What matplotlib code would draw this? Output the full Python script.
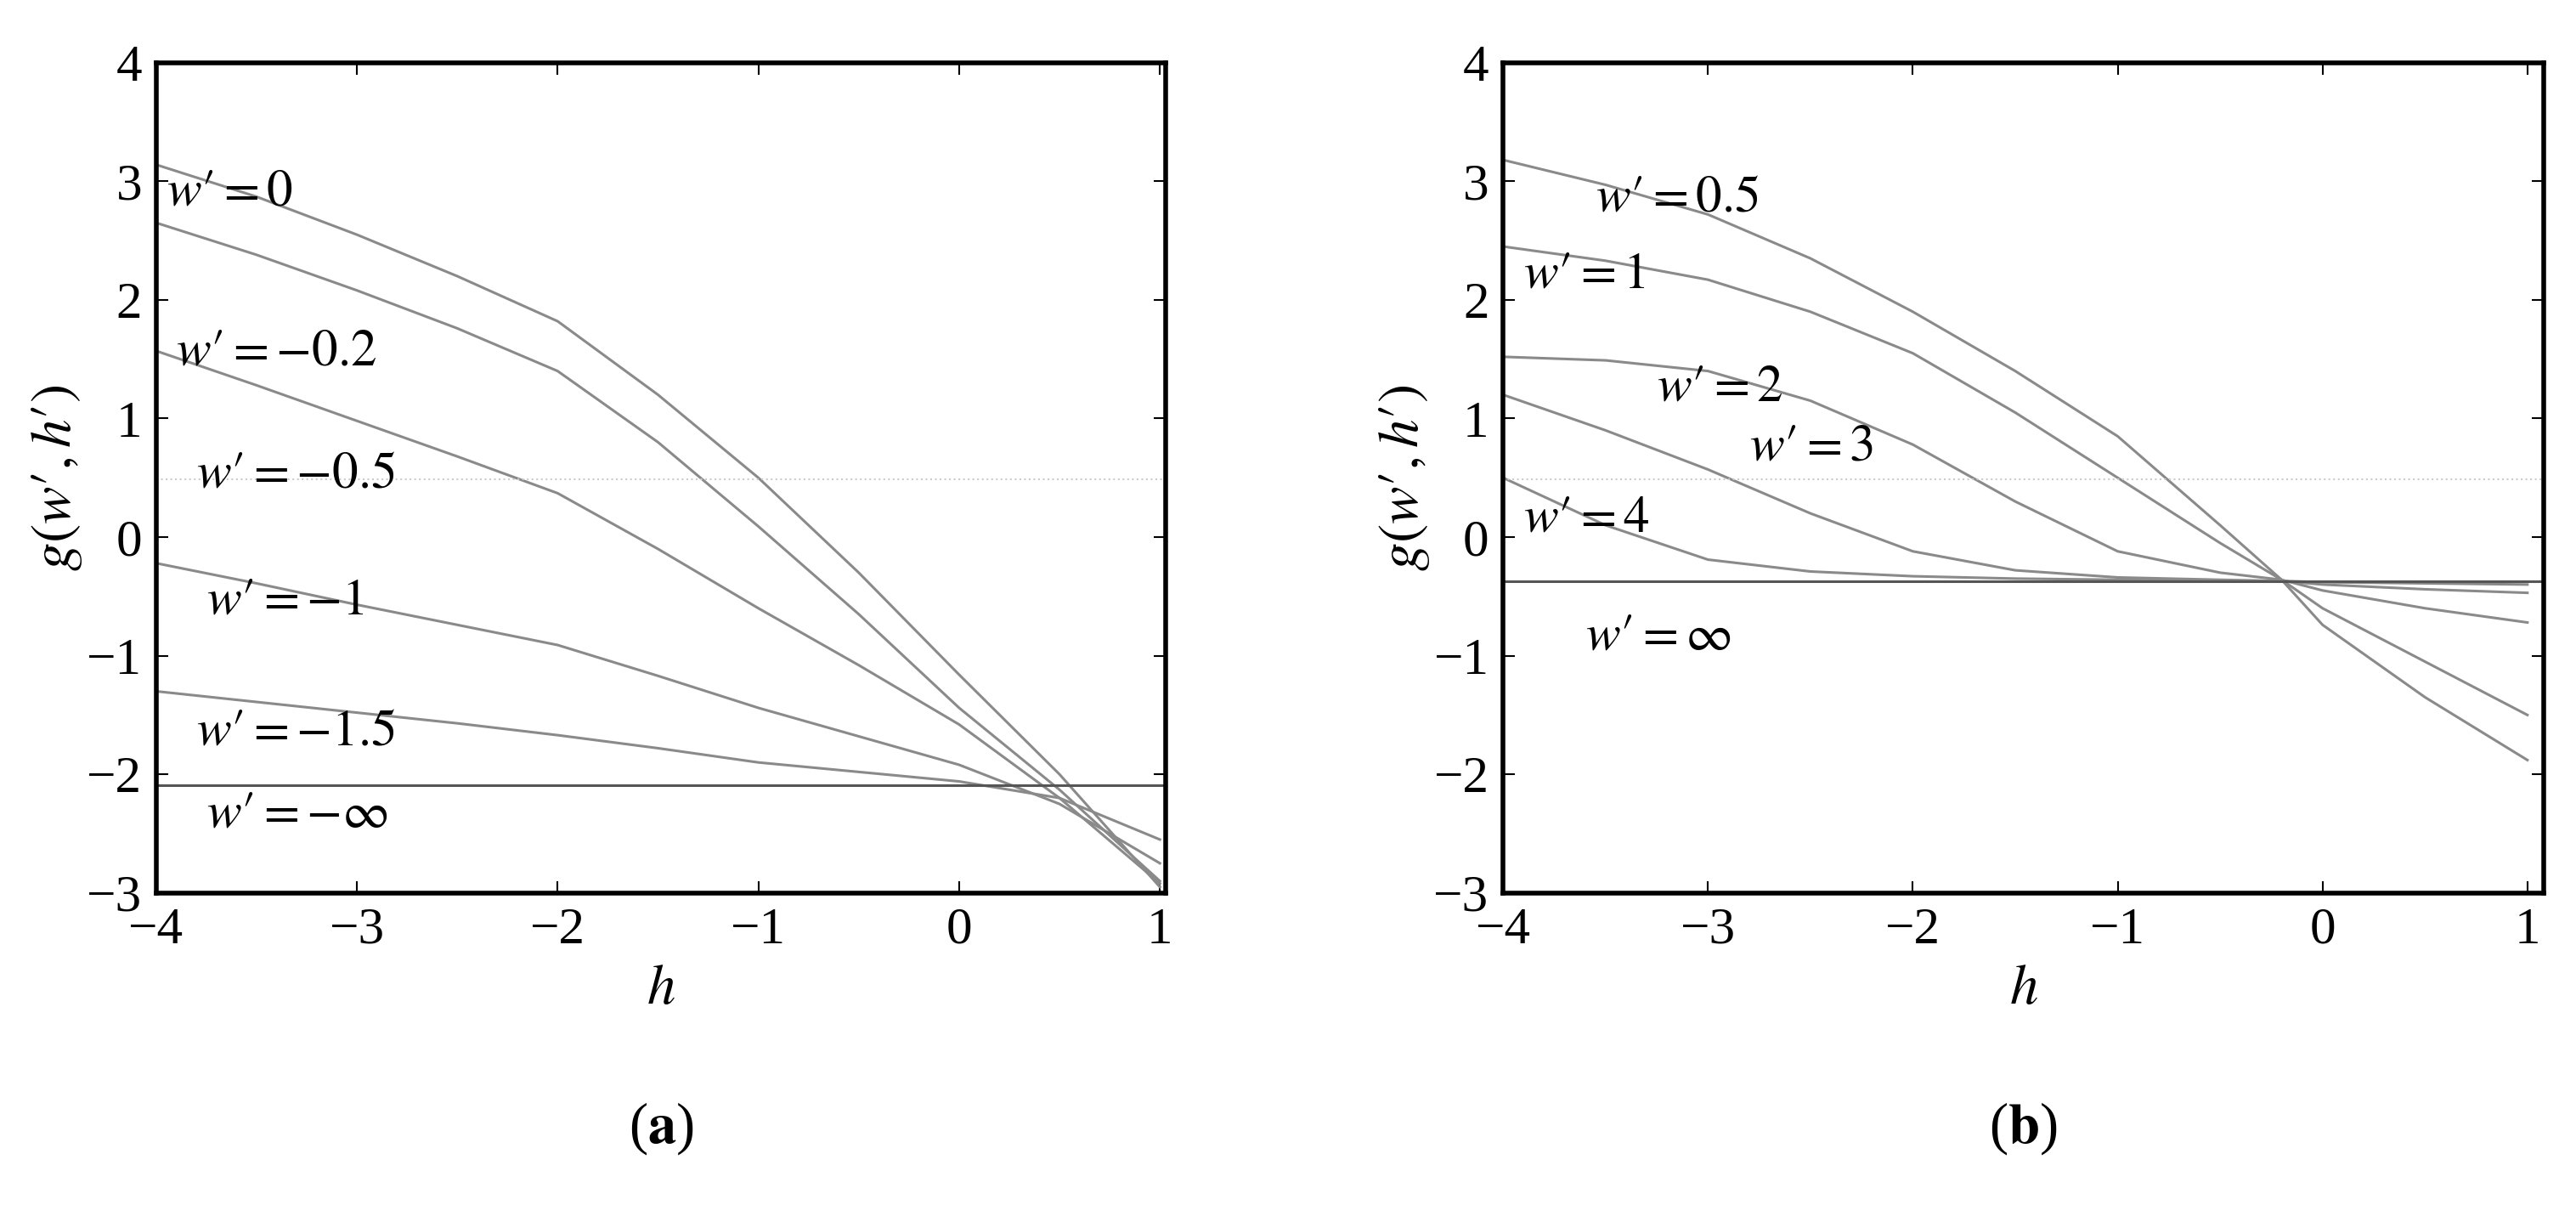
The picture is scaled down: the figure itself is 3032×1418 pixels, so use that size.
import matplotlib
matplotlib.use("Agg")
import matplotlib.pyplot as plt

plt.rcParams['font.family'] = ['Liberation Serif', 'DejaVu Serif']
plt.rcParams['mathtext.fontset'] = 'stix'

# Panel (a)
h_a = [-4, -3.5, -3, -2.5, -2, -1.5, -1, -0.5, 0, 0.5, 1.0]
a_w0 = [3.14, 2.87, 2.55, 2.2, 1.82, 1.2, 0.5, -0.3, -1.16, -2.0, -2.95]
a_w02 = [2.65, 2.38, 2.08, 1.76, 1.4, 0.8, 0.09, -0.65, -1.44, -2.13, -2.9]
a_w05 = [1.57, 1.28, 0.98, 0.68, 0.37, -0.1, -0.6, -1.08, -1.58, -2.2, -2.92]
a_w1 = [-0.22, -0.39, -0.57, -0.74, -0.91, -1.17, -1.44, -1.68, -1.92, -2.25, -2.75]
a_w15 = [-1.3, -1.39, -1.48, -1.57, -1.67, -1.78, -1.9, -1.98, -2.06, -2.2, -2.55]
a_winf = -2.09
a_dot = 0.49
a_series = [a_w0, a_w02, a_w05, a_w1, a_w15]
a_labels = ["$w\u2032 = 0$", "$w\u2032 = -0.2$", "$w\u2032 = -0.5$", "$w\u2032 = -1$", "$w\u2032 = -1.5$", "$w\u2032 = -\\infty$"]
a_label_pos = [(-3.95, 2.8), (-3.9, 1.45), (-3.8, 0.42), (-3.75, -0.65), (-3.8, -1.75), (-3.75, -2.45)]

# Panel (b)
h_b = [-4, -3.5, -3, -2.5, -2, -1.5, -1, -0.5, -0.2, 0, 0.5, 1.0]
b_w05 = [3.18, 2.97, 2.72, 2.35, 1.9, 1.4, 0.85, 0.1, -0.36, -0.74, -1.35, -1.88]
b_w1 = [2.45, 2.33, 2.17, 1.9, 1.55, 1.05, 0.5, -0.05, -0.36, -0.6, -1.05, -1.5]
b_w2 = [1.52, 1.49, 1.4, 1.15, 0.78, 0.3, -0.12, -0.3, -0.36, -0.45, -0.6, -0.72]
b_w3 = [1.2, 0.9, 0.57, 0.2, -0.12, -0.28, -0.34, -0.36, -0.37, -0.4, -0.44, -0.47]
b_w4 = [0.5, 0.1, -0.19, -0.29, -0.33, -0.35, -0.36, -0.37, -0.37, -0.38, -0.39, -0.4]
b_winf = -0.37
b_dot = 0.49
b_series = [b_w05, b_w1, b_w2, b_w3, b_w4]
b_labels = ["$w\u2032 = 0.5$", "$w\u2032 = 1$", "$w\u2032 = 2$", "$w\u2032 = 3$", "$w\u2032 = 4$", "$w\u2032 = \\infty$"]
b_label_pos = [(-3.55, 2.75), (-3.9, 2.1), (-3.25, 1.15), (-2.8, 0.65), (-3.9, 0.05), (-3.6, -0.95)]

ticks_y = [-3, -2, -1, 0, 1, 2, 3, 4]
ticks_x = [-4, -3, -2, -1, 0, 1]

fig = plt.figure(figsize=(30.32, 14.18), dpi=100)
axA = fig.add_axes([0.0606, 0.259, 0.392, 0.689])
axB = fig.add_axes([0.5835, 0.259, 0.404, 0.689])

def draw(ax, h, series, winf, dot, labels, pos, xmax, cap):
    for s in series:
        ax.plot(h, s, color='#8a8a8a', lw=2.2)
    ax.axhline(winf, color='#555555', lw=2.2)
    ax.axhline(dot, color='#cccccc', lw=1.5, ls=':')
    for t, (x, y) in zip(labels, pos):
        ax.text(x, y, t, fontsize=44)
    ax.set_xlim(-4, xmax)
    ax.set_ylim(-3, 4)
    ax.set_xticks(ticks_x)
    ax.set_yticks(ticks_y)
    ax.set_xticklabels(['\u22124', '\u22123', '\u22122', '\u22121', '0', '1'])
    ax.set_yticklabels(['\u22123', '\u22122', '\u22121', '0', '1', '2', '3', '4'])
    ax.tick_params(labelsize=44, direction='in', length=10, width=1.5, top=True, right=True, pad=12)
    for sp in ax.spines.values():
        sp.set_linewidth(4)
    ax.set_xlabel('$h$', fontsize=48, labelpad=8)
    ax.set_ylabel("$g(w\u2032,h\u2032)$", fontsize=48, labelpad=2)
    ax.text(0.5, -0.25, cap, transform=ax.transAxes, ha='center', va='top', fontsize=48)

draw(axA, h_a, a_series, a_winf, a_dot, a_labels, a_label_pos, 1.03, '($\\mathbf{a}$)')
draw(axB, h_b, b_series, b_winf, b_dot, b_labels, b_label_pos, 1.08, '($\\mathbf{b}$)')

fig.savefig('out.png', dpi=100)
